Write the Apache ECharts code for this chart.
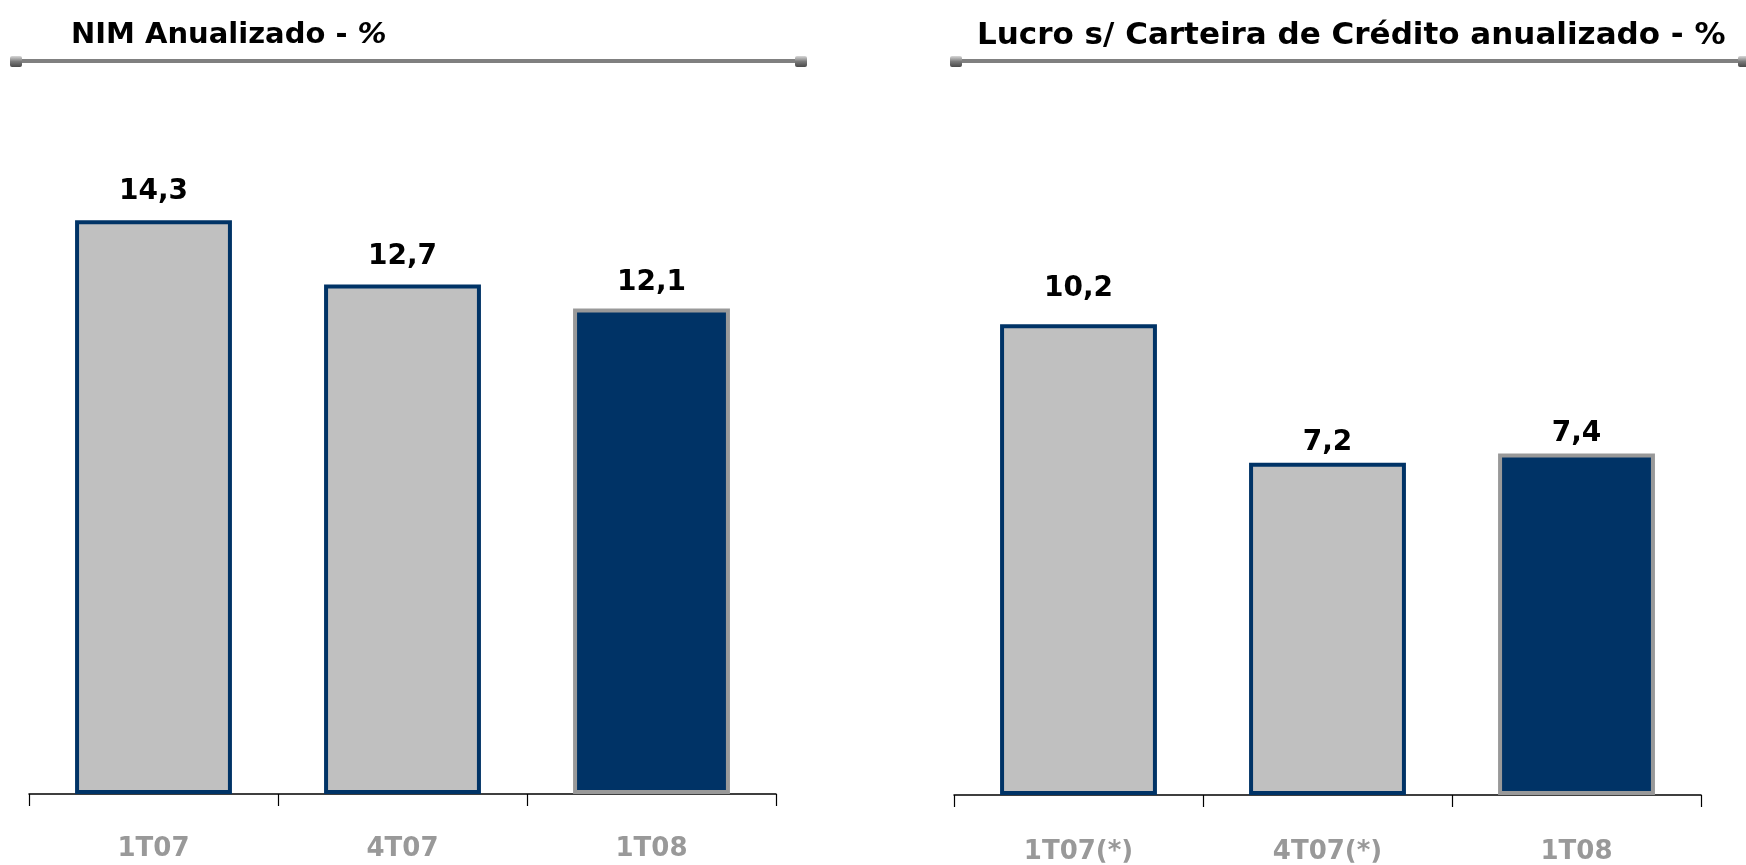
<!DOCTYPE html>
<html>
<head>
<meta charset="utf-8">
<script src="https://cdn.jsdelivr.net/npm/echarts@6/dist/echarts.min.js"></script>
<style>
  html, body { margin: 0; padding: 0; background: #fff; }
  #main { width: 1746px; height: 865px; }
</style>
</head>
<body>
<div id="main"></div>
<script>
// dados
var nimCategories = ['1T07', '4T07', '1T08'];
var nimValues = [14.3, 12.7, 12.1];
var lucroCategories = ['1T07(*)', '4T07(*)', '1T08'];
var lucroValues = [10.2, 7.2, 7.4];

var navy = '#003366';
var grey = '#c0c0c0';
var greyBorder = '#999999';

// distância do rótulo ao topo da barra (como no original)
var nimLabelGap = [14, 14, 12];
var lucroLabelGap = [22, 6, 6];

function barItems(values, gaps) {
    return values.map(function (v, i) {
        var last = i === values.length - 1;
        return {
            value: v,
            itemStyle: {
                color: last ? navy : grey,
                borderColor: last ? greyBorder : navy,
                borderWidth: 4
            },
            label: { distance: gaps[i] }
        };
    });
}

function capGraphic(x, y) {
    return {
        type: 'rect',
        shape: { x: x, y: y, width: 12, height: 11, r: 2 },
        style: {
            fill: new echarts.graphic.LinearGradient(0, 0, 0, 1, [
                { offset: 0, color: '#d8d8d8' },
                { offset: 0.5, color: '#7a7a7a' },
                { offset: 1, color: '#4a4a4a' }
            ])
        },
        z: 10
    };
}

var labelStyle = {
    show: true,
    position: 'top',
    color: '#000',
    fontFamily: 'DejaVu Sans',
    fontWeight: 'bold',
    fontSize: 28,
    formatter: function (p) { return p.value.toFixed(1).replace('.', ','); }
};

function catAxis(idx, data, margin) {
    return {
        type: 'category', gridIndex: idx, data: data,
        axisLine: { show: true, lineStyle: { color: '#000', width: 1.5 } },
        axisTick: { show: true, inside: false, length: 12, lineStyle: { color: '#000', width: 1.2 } },
        axisLabel: { margin: margin, color: '#999', fontFamily: 'DejaVu Sans', fontWeight: 'bold', fontSize: 26 }
    };
}

var myChart = echarts.init(document.getElementById('main'));
var option = {
    animation: false,
    title: [
        {
            text: 'NIM Anualizado - {i|%}',
            left: 66, top: 16,
            textStyle: {
                fontFamily: 'DejaVu Sans', fontWeight: 'bold', fontSize: 29, color: '#000',
                rich: { i: { fontFamily: 'DejaVu Sans', fontWeight: 'bold', fontStyle: 'italic', fontSize: 29, color: '#000' } }
            }
        },
        {
            text: 'Lucro s/ Carteira de Crédito anualizado - %',
            left: 972, top: 15,
            textStyle: { fontFamily: 'DejaVu Sans', fontWeight: 'bold', fontSize: 31, color: '#000' }
        }
    ],
    graphic: [
        { type: 'rect', shape: { x: 16, y: 59, width: 782, height: 4 }, style: { fill: '#808080' } },
        capGraphic(10, 56),
        capGraphic(795, 56),
        { type: 'rect', shape: { x: 956, y: 59, width: 790, height: 4 }, style: { fill: '#808080' } },
        capGraphic(950, 56),
        capGraphic(1738, 56)
    ],
    grid: [
        { left: 29, width: 747, top: 152, bottom: 71 },
        { left: 954, width: 747, top: 149, bottom: 67 }
    ],
    xAxis: [
        catAxis(0, nimCategories, 42),
        catAxis(1, lucroCategories, 44)
    ],
    yAxis: [
        { type: 'value', gridIndex: 0, min: 0, max: 16, show: false, splitLine: { show: false } },
        { type: 'value', gridIndex: 1, min: 0, max: 14, show: false, splitLine: { show: false } }
    ],
    series: [
        {
            type: 'bar', xAxisIndex: 0, yAxisIndex: 0, barWidth: '63%',
            data: barItems(nimValues, nimLabelGap), label: labelStyle
        },
        {
            type: 'bar', xAxisIndex: 1, yAxisIndex: 1, barWidth: '63%',
            data: barItems(lucroValues, lucroLabelGap), label: labelStyle
        }
    ]
};
myChart.setOption(option);
</script>
</body>
</html>
